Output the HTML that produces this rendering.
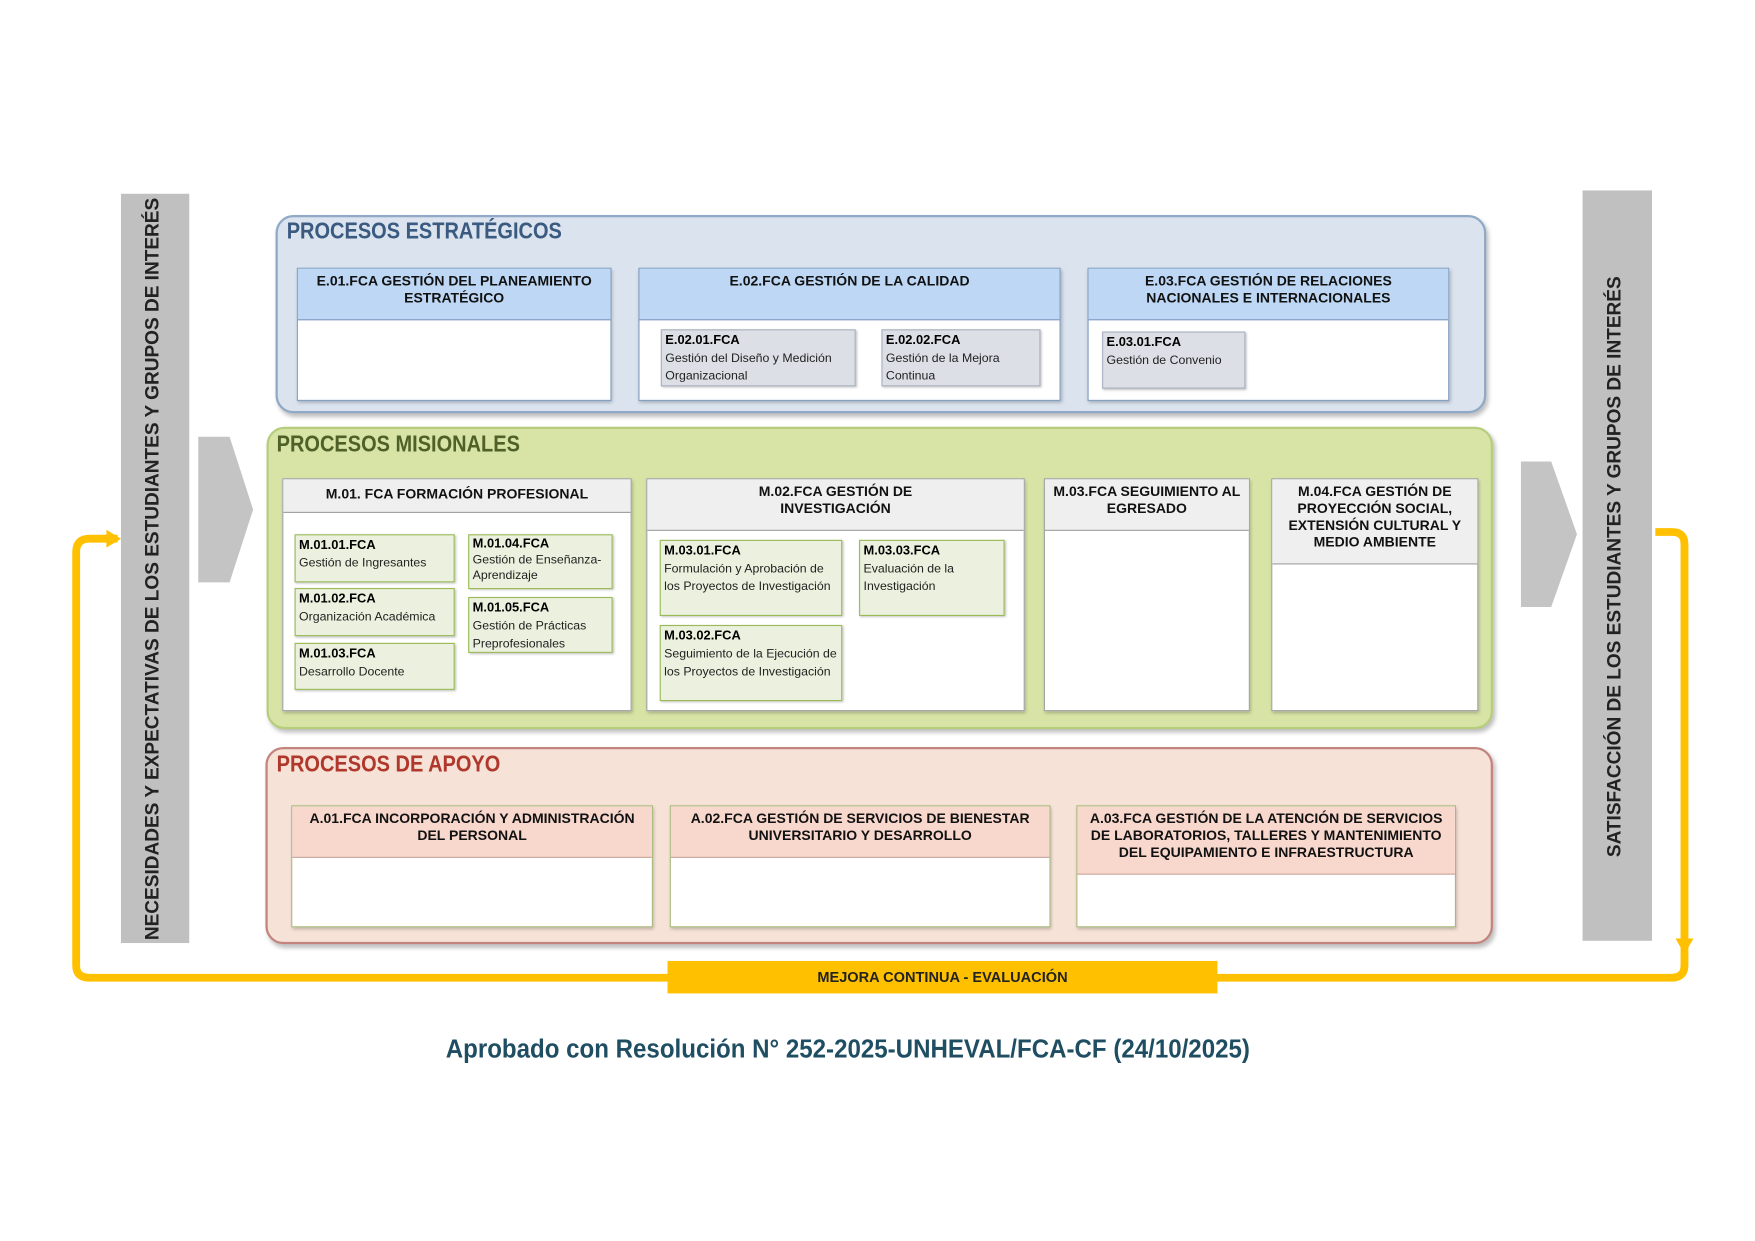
<!DOCTYPE html>
<html><head><meta charset="utf-8"><style>
html,body{margin:0;padding:0;background:#fff;}
#wrap{width:1755px;height:1241px;overflow:hidden;position:relative;}
#c{position:absolute;left:0;top:0;width:1560px;height:1108px;transform:scale(1.12);transform-origin:0 0;font-family:"Liberation Sans",sans-serif;}
.a{position:absolute;box-sizing:border-box;}
.grp{border-radius:16px;box-shadow:2px 3px 4px rgba(0,0,0,.25);}
.ttl{position:absolute;font-weight:bold;font-size:21px;letter-spacing:0px;transform:scaleX(.85);transform-origin:0 50%;white-space:nowrap;}
.box{position:absolute;box-sizing:border-box;background:#fff;box-shadow:1px 2px 3px rgba(0,0,0,.25);}
.hd{position:absolute;left:0;right:0;top:0;box-sizing:border-box;font-weight:bold;font-size:12.5px;line-height:15px;text-align:center;color:#111;padding-top:4px;}
.sb{position:absolute;box-sizing:border-box;font-size:11px;line-height:16px;padding:1px 3px;color:#222;box-shadow:1px 1px 2px rgba(0,0,0,.25);}
.sb b{font-size:11.5px;color:#000;}
.vt{position:absolute;font-weight:bold;font-size:17px;color:#222;white-space:nowrap;transform:rotate(-90deg);transform-origin:center;text-align:center;}
</style></head><body><div id="wrap"><div id="c">

<svg class="a" style="left:0;top:0" width="1560" height="1103">
<path d="M105 481 L80 481 Q68 481 68 493 L68 862 Q68 873 80 873 L1492 873 Q1504 873 1504 862 L1504 486 Q1504 475 1493 475 L1478 475" fill="none" stroke="#FFC000" stroke-width="7"/>
<polygon points="95,473 108,481 95,489" fill="#FFC000"/>
<polygon points="1496,838 1512,838 1504,852" fill="#FFC000"/>
<polygon points="177,390 205,390 226,455 205,520 177,520" fill="#c4c4c4"/>
<polygon points="1358,412 1385,412 1408,477 1385,542 1358,542" fill="#c4c4c4"/>
</svg>

<div class="a" style="left:108px;top:173px;width:61px;height:669px;background:#c0c0c0;"></div>
<div class="vt" style="left:-196px;top:496px;width:669px;height:24px;">NECESIDADES Y EXPECTATIVAS DE LOS ESTUDIANTES Y GRUPOS DE INTERÉS</div>
<div class="a" style="left:1413px;top:170px;width:62px;height:670px;background:#c0c0c0;"></div>
<div class="vt" style="left:1109px;top:494px;width:670px;height:24px;">SATISFACCIÓN DE LOS ESTUDIANTES Y GRUPOS DE INTERÉS</div>

<div class="a" style="left:596px;top:858px;width:491px;height:29px;background:#FFC000;text-align:center;font-weight:bold;font-size:13px;line-height:29px;color:#222;">MEJORA CONTINUA - EVALUACIÓN</div>

<div class="a grp" style="left:246px;top:192px;width:1081px;height:177px;background:#dae3ee;border:2px solid #8fa9c6;"></div>
<div class="ttl" style="left:256px;top:195px;color:#3a5a80;">PROCESOS ESTRATÉGICOS</div>
<div class="box" style="left:265px;top:239px;width:281px;height:119px;border:1px solid #7f9cc0;"><div class="hd" style="height:46px;background:#bdd7f4;border-bottom:1px solid #7f9cc0;">E.01.FCA GESTIÓN DEL PLANEAMIENTO<br>ESTRATÉGICO</div></div>
<div class="box" style="left:570px;top:239px;width:377px;height:119px;border:1px solid #7f9cc0;"><div class="hd" style="height:46px;background:#bdd7f4;border-bottom:1px solid #7f9cc0;">E.02.FCA GESTIÓN DE LA CALIDAD</div></div>
<div class="sb" style="left:590px;top:294px;width:174px;height:51px;background:#dcdfe5;border:1px solid #a9b2c0;"><b>E.02.01.FCA</b><br>Gestión del Diseño y Medición Organizacional</div>
<div class="sb" style="left:787px;top:294px;width:142px;height:51px;background:#dcdfe5;border:1px solid #a9b2c0;"><b>E.02.02.FCA</b><br>Gestión de la Mejora Continua</div>
<div class="box" style="left:971px;top:239px;width:323px;height:119px;border:1px solid #7f9cc0;"><div class="hd" style="height:46px;background:#bdd7f4;border-bottom:1px solid #7f9cc0;">E.03.FCA GESTIÓN DE RELACIONES<br>NACIONALES E INTERNACIONALES</div></div>
<div class="sb" style="left:984px;top:296px;width:128px;height:51px;background:#dcdfe5;border:1px solid #a9b2c0;"><b>E.03.01.FCA</b><br>Gestión de Convenio</div>

<div class="a grp" style="left:238px;top:381px;width:1095px;height:270px;background:#d7e4a6;border:2px solid #b6ce7c;"></div>
<div class="ttl" style="left:247px;top:385px;color:#4f6128;">PROCESOS MISIONALES</div>
<div class="box" style="left:252px;top:427px;width:312px;height:208px;border:1px solid #a0a0a0;"><div class="hd" style="height:30px;background:#efefef;border-bottom:1px solid #a0a0a0;padding-top:6px;">M.01. FCA FORMACIÓN PROFESIONAL</div></div>
<div class="sb" style="left:263px;top:477px;width:143px;height:43px;background:#ebf1de;border:1px solid #9bbb59;"><b>M.01.01.FCA</b><br>Gestión de Ingresantes</div>
<div class="sb" style="left:263px;top:525px;width:143px;height:43px;background:#ebf1de;border:1px solid #9bbb59;"><b>M.01.02.FCA</b><br>Organización Académica</div>
<div class="sb" style="left:263px;top:574px;width:143px;height:42px;background:#ebf1de;border:1px solid #9bbb59;"><b>M.01.03.FCA</b><br>Desarrollo Docente</div>
<div class="sb" style="left:418px;top:477px;width:129px;height:49px;background:#ebf1de;border:1px solid #9bbb59;line-height:14px;"><b>M.01.04.FCA</b><br>Gestión de Enseñanza-Aprendizaje</div>
<div class="sb" style="left:418px;top:533px;width:129px;height:50px;background:#ebf1de;border:1px solid #9bbb59;"><b>M.01.05.FCA</b><br>Gestión de Prácticas Preprofesionales</div>

<div class="box" style="left:577px;top:427px;width:338px;height:208px;border:1px solid #a0a0a0;"><div class="hd" style="height:46px;background:#efefef;border-bottom:1px solid #a0a0a0;">M.02.FCA GESTIÓN DE<br>INVESTIGACIÓN</div></div>
<div class="sb" style="left:589px;top:482px;width:163px;height:68px;background:#ebf1de;border:1px solid #9bbb59;"><b>M.03.01.FCA</b><br>Formulación y Aprobación de los Proyectos de Investigación</div>
<div class="sb" style="left:767px;top:482px;width:130px;height:68px;background:#ebf1de;border:1px solid #9bbb59;"><b>M.03.03.FCA</b><br>Evaluación de la Investigación</div>
<div class="sb" style="left:589px;top:558px;width:163px;height:68px;background:#ebf1de;border:1px solid #9bbb59;"><b>M.03.02.FCA</b><br>Seguimiento de la Ejecución de los Proyectos de Investigación</div>

<div class="box" style="left:932px;top:427px;width:184px;height:208px;border:1px solid #a0a0a0;"><div class="hd" style="height:46px;background:#efefef;border-bottom:1px solid #a0a0a0;">M.03.FCA SEGUIMIENTO AL<br>EGRESADO</div></div>
<div class="box" style="left:1135px;top:427px;width:185px;height:208px;border:1px solid #a0a0a0;"><div class="hd" style="height:76px;background:#efefef;border-bottom:1px solid #a0a0a0;">M.04.FCA GESTIÓN DE<br>PROYECCIÓN SOCIAL,<br>EXTENSIÓN CULTURAL Y<br>MEDIO AMBIENTE</div></div>

<div class="a grp" style="left:237px;top:667px;width:1096px;height:176px;background:#f6e2d7;border:2px solid #c3847e;"></div>
<div class="ttl" style="left:247px;top:671px;color:#b0372b;">PROCESOS DE APOYO</div>
<div class="box" style="left:260px;top:719px;width:323px;height:109px;border:1px solid #a9b97a;"><div class="hd" style="height:46px;background:#f8d8cd;border-bottom:1px solid #c9a99f;">A.01.FCA INCORPORACIÓN Y ADMINISTRACIÓN<br>DEL PERSONAL</div></div>
<div class="box" style="left:598px;top:719px;width:340px;height:109px;border:1px solid #a9b97a;"><div class="hd" style="height:46px;background:#f8d8cd;border-bottom:1px solid #c9a99f;">A.02.FCA GESTIÓN DE SERVICIOS DE BIENESTAR<br>UNIVERSITARIO Y DESARROLLO</div></div>
<div class="box" style="left:961px;top:719px;width:339px;height:109px;border:1px solid #a9b97a;"><div class="hd" style="height:61px;background:#f8d8cd;border-bottom:1px solid #c9a99f;">A.03.FCA GESTIÓN DE LA ATENCIÓN DE SERVICIOS<br>DE LABORATORIOS, TALLERES Y MANTENIMIENTO<br>DEL EQUIPAMIENTO E INFRAESTRUCTURA</div></div>

<div class="a" style="left:300px;top:923px;width:914px;text-align:center;font-weight:bold;font-size:23px;color:#1f4e63;white-space:nowrap;"><span style="display:inline-block;transform:scaleX(.935);">Aprobado con Resolución N° 252-2025-UNHEVAL/FCA-CF (24/10/2025)</span></div>

</div></div></body></html>
